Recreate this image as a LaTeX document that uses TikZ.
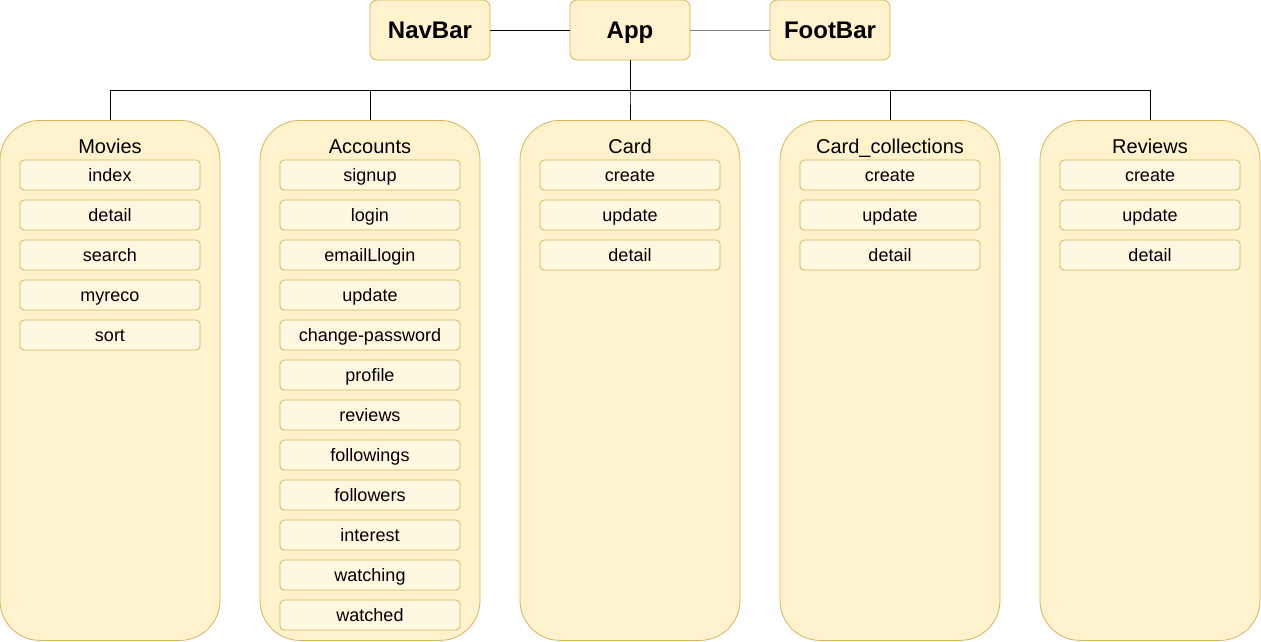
\documentclass[tikz,border=0pt]{standalone}
\usepackage{fontspec}
\setmainfont{Liberation Sans}
\usepackage{xcolor}
\definecolor{boxfill}{HTML}{FFF2CC}
\definecolor{boxline}{HTML}{D6B656}
\definecolor{itemfill}{HTML}{FFF8E1}

\begin{document}
\begin{tikzpicture}
  [x=1pt,y=-1pt,line width=0.8pt,
   top/.style={draw=boxline,fill=boxfill,rounded corners=7pt,
     minimum width=120pt,minimum height=60pt,inner sep=0pt,
     text height=17.2pt,text depth=0pt,
     font=\fontsize{24}{28}\selectfont\bfseries},
   group/.style={draw=boxline,fill=boxfill,rounded corners=40pt,
     minimum width=220pt,minimum height=520pt,inner sep=0pt,below},
   title/.style={inner sep=0pt,text height=14.3pt,text depth=0pt,
     font=\fontsize{20}{24}\selectfont},
   item/.style={draw=boxline,fill=itemfill,rounded corners=4pt,
     minimum width=180pt,minimum height=30pt,inner sep=0pt,
     text height=12.9pt,text depth=0pt,
     font=\fontsize{18}{21}\selectfont}]
\useasboundingbox (0,0) rectangle (1261,641);
\path
    (630,30) node [top] (app) {App}
    (430,30) node [top] (navbar) {NavBar}
    (830,30) node [top] (footbar) {FootBar};
\draw (navbar.east) -- (app.west);
\draw [gray] (app.east) -- (footbar.west);

% groups with their titles
\foreach \name/\title/\x in {movies/Movies/110,accounts/Accounts/370,
    card/Card/630,cardcoll/Card\_collections/890,reviews/Reviews/1150}
{
  \path (\x,120) node [group] (\name) {}
    (\name.north) +(0,26) node [title] (\name-title) {\title};
  \draw (app.south) -- ++(0,30) -| (\name.north);
}

\foreach \t [count=\i] in {index,detail,search,myreco,sort}
  \path (movies.north) +(0,15+40*\i) node [item] (movies-\i) {\t};
\foreach \t [count=\i] in {signup,login,emailLlogin,update,change-password,
    profile,reviews,followings,followers,interest,watching,watched}
  \path (accounts.north) +(0,15+40*\i) node [item] (accounts-\i) {\t};
\foreach \t [count=\i] in {create,update,detail}
  \path (card.north) +(0,15+40*\i) node [item] (card-\i) {\t};
\foreach \t [count=\i] in {create,update,detail}
  \path (cardcoll.north) +(0,15+40*\i) node [item] (cardcoll-\i) {\t};
\foreach \t [count=\i] in {create,update,detail}
  \path (reviews.north) +(0,15+40*\i) node [item] (reviews-\i) {\t};
\end{tikzpicture}
\end{document}
